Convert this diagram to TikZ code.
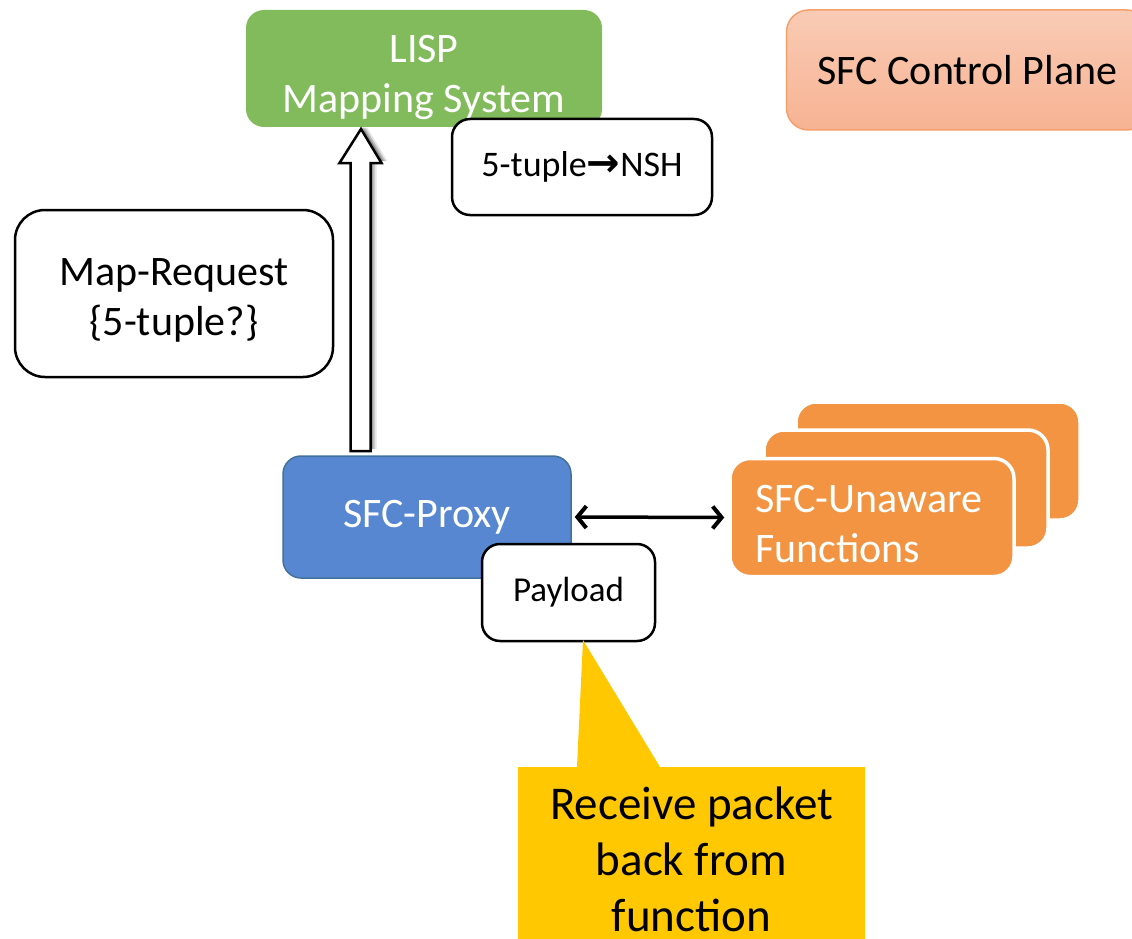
\documentclass[tikz,border=0pt]{standalone}
\usepackage{fontspec}
\setmainfont{Carlito}
\newfontfamily\arrowfont{DejaVu Sans}
\usetikzlibrary{arrows.meta}
\definecolor{lispgreen}{HTML}{82BB5C}
\definecolor{proxyblue}{HTML}{5787D0}
\definecolor{proxyborder}{HTML}{41719C}
\definecolor{funcorange}{HTML}{F29442}
\definecolor{calloutyellow}{HTML}{FFC800}
\definecolor{cptop}{HTML}{F9CBB5}
\definecolor{cpbottom}{HTML}{F7B393}
\definecolor{cpborder}{HTML}{F5A06A}
\tikzset{
  bigtext/.style={font=\fontsize{42}{50}\selectfont},
  midtext/.style={font=\fontsize{36}{44}\selectfont},
  whitebox/.style={draw=black, line width=2.5pt, fill=white, rounded corners=18pt, inner sep=0pt, align=center},
  greenbox/.style={fill=lispgreen, rounded corners=18pt, inner sep=0pt},
  bluebox/.style={fill=proxyblue, draw=proxyborder, line width=1.5pt, rounded corners=18pt, inner sep=0pt, align=center, text=white, bigtext},
  funcbox/.style={fill=funcorange, draw=white, line width=3.5pt, rounded corners=20pt, inner sep=0pt},
  cpbox/.style={top color=cptop, bottom color=cpbottom, draw=cpborder, line width=1.5pt, rounded corners=22pt, inner sep=0pt, align=center, bigtext},
  blockarrow/.style={draw=black, line width=2.5pt, fill=white, line join=miter},
  linkarrow/.style={{Straight Barb[length=9pt,width=22pt,line width=4pt]}-{Straight Barb[length=9pt,width=22pt,line width=4pt]}, line width=3.5pt},
  plaintext/.style={inner sep=0pt, align=center},
}
\begin{document}
\begin{tikzpicture}[x=1pt,y=-1pt]
\useasboundingbox (0,0) rectangle (1132,939);

% LISP mapping system
\node[greenbox, minimum width=356, minimum height=117] (lisp) at (424,68.5) {};
\node[plaintext, text=white, bigtext] (lisptext) at (424,77) {LISP\\Mapping System};

% SFC control plane
\node[cpbox, minimum width=362, minimum height=120] (cp) at (967.5,70) {SFC Control Plane};

% 5-tuple -> NSH
\node[whitebox, midtext, minimum width=260, minimum height=96] (tuple) at (582,167) {5-tuple{\arrowfont\bfseries\fontsize{40}{44}\selectfont →}NSH};

% Map-Request
\node[whitebox, rounded corners=30pt, minimum width=318, minimum height=167] (mapreq) at (174,293.5) {};
\node[plaintext, bigtext] (mapreqtext) at (174,300) {Map-Request\\\{5-tuple?\}};

% SFC-Proxy
\node[bluebox, minimum width=288, minimum height=122] (proxy) at (427,517) {SFC-Proxy};

% block arrow from proxy up to LISP (soft shadow then arrow)
\coordinate (arrowbase) at (360.5,451);
\coordinate (arrowtip) at (361,129);
\foreach \s/\o in {6/10,4/18,2/25}{
\fill[black,opacity=\o/100] ([xshift=-10pt+\s pt,yshift=2pt]arrowbase) -- ([xshift=-10pt+\s pt,yshift=2pt]arrowbase |- 0,163) -- ([xshift=-21pt+\s pt,yshift=2pt]arrowbase |- 0,163)
  -- ([xshift=\s pt,yshift=2pt]arrowtip) -- ([xshift=21pt+\s pt,yshift=2pt]arrowbase |- 0,163) -- ([xshift=10pt+\s pt,yshift=2pt]arrowbase |- 0,163) -- ([xshift=10pt+\s pt,yshift=2pt]arrowbase) -- cycle;
}
\draw[blockarrow] ([xshift=-10pt]arrowbase) -- ([xshift=-10pt]arrowbase |- 0,163) -- ([xshift=-21pt]arrowbase |- 0,163)
  -- (arrowtip) -- ([xshift=21pt]arrowbase |- 0,163) -- ([xshift=10pt]arrowbase |- 0,163) -- ([xshift=10pt]arrowbase) -- cycle;

% SFC-unaware functions stack
\node[funcbox, minimum width=284, minimum height=118] (fback) at (938,461) {};
\node[funcbox, minimum width=284, minimum height=118] (fmid) at (906,489) {};
\node[funcbox, minimum width=284, minimum height=118] (ffront) at (872,517.5) {};
\node[text=white, bigtext, align=left, anchor=west, inner sep=0pt] (ftext) at (755,524) {SFC-Unaware\\Functions};

% link proxy <-> functions
\draw[linkarrow] ([xshift=3pt]proxy.east) -- ([xshift=-4pt]ffront.west);

% Payload
\node[whitebox, font=\fontsize{35}{42}\selectfont, minimum width=173, minimum height=97] (payload) at (568.5,592.5) {Payload};

% callout
\coordinate (ctip) at (583,640);
\fill[calloutyellow] (518,767) -- (577,767) -- (ctip) -- (660,767) -- (865,767) -- (865,945) -- (518,945) -- cycle;
\node[plaintext, font=\fontsize{47}{56}\selectfont] (callout) at (691.5,859) {Receive packet\\back from\\function};
\end{tikzpicture}
\end{document}
